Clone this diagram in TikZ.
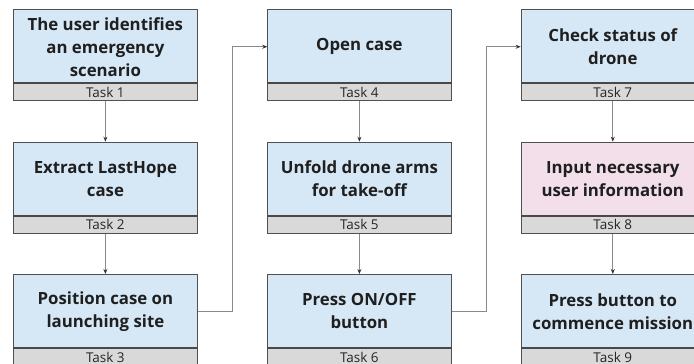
\documentclass[tikz,border=0pt]{standalone}
\usepackage{fontspec}
\setmainfont{Open Sans}
\usetikzlibrary{arrows.meta}
\definecolor{boxblue}{HTML}{D6E8F6}
\definecolor{boxpink}{HTML}{F2DFEA}
\definecolor{taskgray}{HTML}{D9D9D9}
\definecolor{edgegray}{HTML}{505050}
\definecolor{linegray}{HTML}{8A8A8A}
\tikzset{
  mainbox/.style={draw=edgegray, line width=0.9pt, fill=boxblue, minimum width=183.3pt, minimum height=74pt, inner sep=0pt, anchor=north west, align=center, font=\fontsize{16.8}{23}\selectfont\bfseries, text=black!88},
  pinkbox/.style={mainbox, fill=boxpink},
  taskbox/.style={draw=edgegray, line width=0.9pt, fill=taskgray, minimum width=183.3pt, minimum height=17pt, inner sep=0pt, anchor=north west, font=\fontsize{13.5}{14}\selectfont, text=black!85},
  sepline/.style={draw=edgegray!90!black, line width=2pt},
  flow/.style={draw=linegray, line width=0.8pt, -{Stealth[length=5pt,width=4pt,color=black!80]}},
}
\begin{document}
\begin{tikzpicture}[x=1pt,y=-1pt]
\useasboundingbox (0,0) rectangle (694,364);
% column 1
\node[mainbox] (b1) at (13.3,9.3) {The user identifies\\an emergency\\scenario};
\node[taskbox] (t1) at (13.3,83.3) {Task 1};
\node[mainbox] (b2) at (13.3,141.7) {Extract LastHope\\case};
\node[taskbox] (t2) at (13.3,215.7) {Task 2};
\node[mainbox] (b3) at (13.3,274) {Position case on\\launching site};
\node[taskbox] (t3) at (13.3,348) {Task 3};
% column 2
\node[mainbox] (b4) at (267.3,9.3) {Open case};
\node[taskbox] (t4) at (267.3,83.3) {Task 4};
\node[mainbox] (b5) at (267.3,141.7) {Unfold drone arms\\for take-off};
\node[taskbox] (t5) at (267.3,215.7) {Task 5};
\node[mainbox] (b6) at (267.3,274) {Press ON/OFF\\button};
\node[taskbox] (t6) at (267.3,348) {Task 6};
% column 3
\node[mainbox] (b7) at (520.7,9.3) {Check status of\\drone};
\node[taskbox] (t7) at (520.7,83.3) {Task 7};
\node[pinkbox] (b8) at (520.7,141.7) {Input necessary\\user information};
\node[taskbox] (t8) at (520.7,215.7) {Task 8};
\node[mainbox] (b9) at (520.7,274) {Press button to\\commence mission};
\node[taskbox] (t9) at (520.7,348) {Task 9};
% separators
\foreach \t in {t1,t2,t3,t4,t5,t6,t7,t8,t9}
  \draw[sepline] (\t.north west) -- (\t.north east);
% connectors
\draw[flow] (t1.south) -- (b2.north);
\draw[flow] (t2.south) -- (b3.north);
\draw[flow] (t4.south) -- (b5.north);
\draw[flow] (t5.south) -- (b6.north);
\draw[flow] (t7.south) -- (b8.north);
\draw[flow] (t8.south) -- (b9.north);
\draw[flow] (b3.east) -- ++(35,0) |- (b4.west);
\draw[flow] (b6.east) -- ++(34.5,0) |- (b7.west);
\end{tikzpicture}
\end{document}
